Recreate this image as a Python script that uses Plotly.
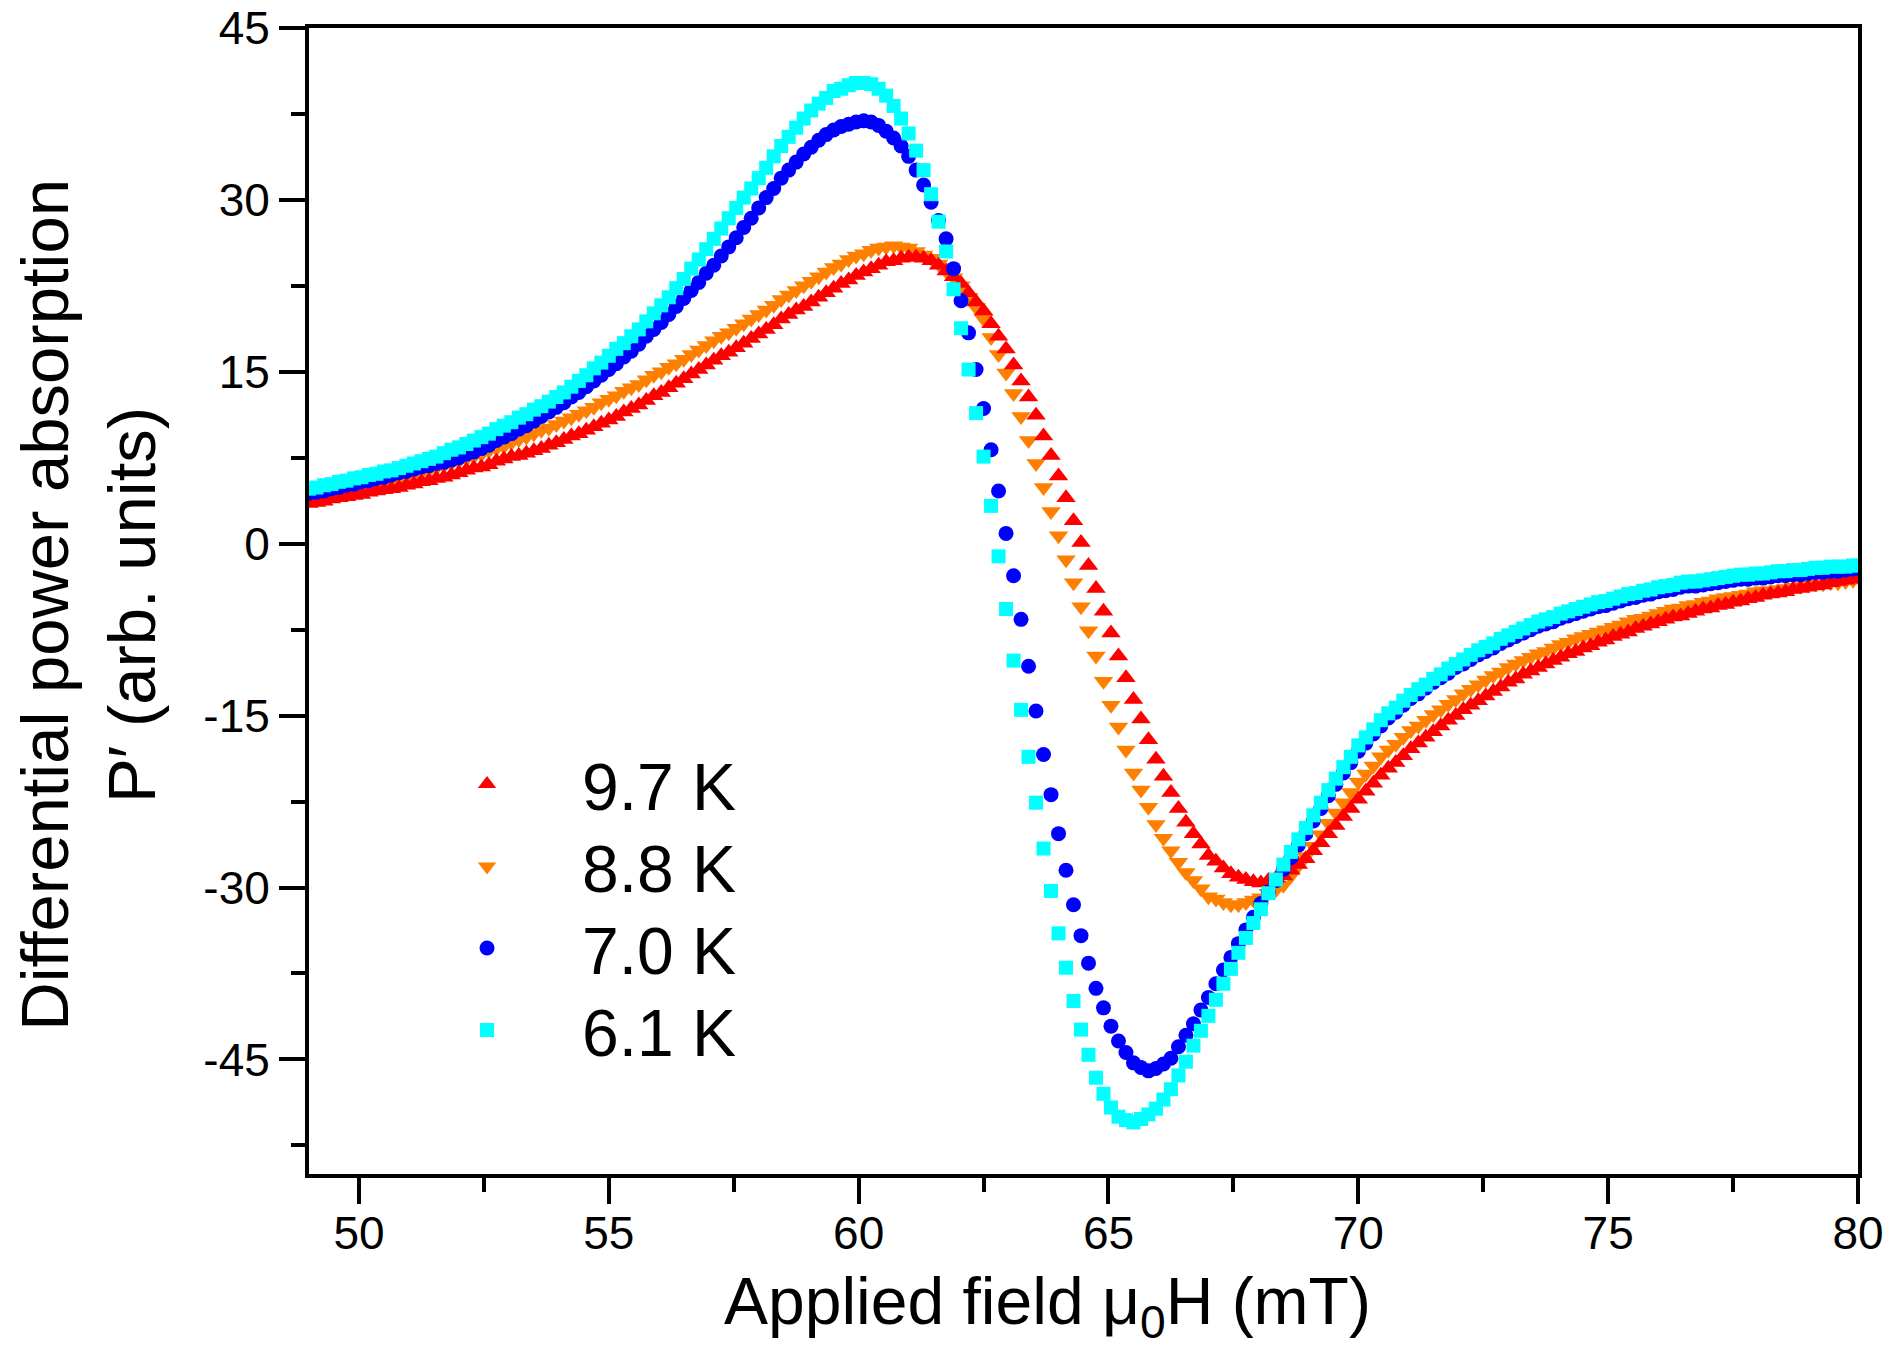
import plotly.graph_objects as go

# applied field (mT), one reading every 0.15 mT
field = [
    49.0, 49.15, 49.3, 49.45, 49.6, 49.75, 49.9, 50.05, 50.2, 50.35,
    50.5, 50.65, 50.8, 50.95, 51.1, 51.25, 51.4, 51.55, 51.7, 51.85,
    52.0, 52.15, 52.3, 52.45, 52.6, 52.75, 52.9, 53.05, 53.2, 53.35,
    53.5, 53.65, 53.8, 53.95, 54.1, 54.25, 54.4, 54.55, 54.7, 54.85,
    55.0, 55.15, 55.3, 55.45, 55.6, 55.75, 55.9, 56.05, 56.2, 56.35,
    56.5, 56.65, 56.8, 56.95, 57.1, 57.25, 57.4, 57.55, 57.7, 57.85,
    58.0, 58.15, 58.3, 58.45, 58.6, 58.75, 58.9, 59.05, 59.2, 59.35,
    59.5, 59.65, 59.8, 59.95, 60.1, 60.25, 60.4, 60.55, 60.7, 60.85,
    61.0, 61.15, 61.3, 61.45, 61.6, 61.75, 61.9, 62.05, 62.2, 62.35,
    62.5, 62.65, 62.8, 62.95, 63.1, 63.25, 63.4, 63.55, 63.7, 63.85,
    64.0, 64.15, 64.3, 64.45, 64.6, 64.75, 64.9, 65.05, 65.2, 65.35,
    65.5, 65.65, 65.8, 65.95, 66.1, 66.25, 66.4, 66.55, 66.7, 66.85,
    67.0, 67.15, 67.3, 67.45, 67.6, 67.75, 67.9, 68.05, 68.2, 68.35,
    68.5, 68.65, 68.8, 68.95, 69.1, 69.25, 69.4, 69.55, 69.7, 69.85,
    70.0, 70.15, 70.3, 70.45, 70.6, 70.75, 70.9, 71.05, 71.2, 71.35,
    71.5, 71.65, 71.8, 71.95, 72.1, 72.25, 72.4, 72.55, 72.7, 72.85,
    73.0, 73.15, 73.3, 73.45, 73.6, 73.75, 73.9, 74.05, 74.2, 74.35,
    74.5, 74.65, 74.8, 74.95, 75.1, 75.25, 75.4, 75.55, 75.7, 75.85,
    76.0, 76.15, 76.3, 76.45, 76.6, 76.75, 76.9, 77.05, 77.2, 77.35,
    77.5, 77.65, 77.8, 77.95, 78.1, 78.25, 78.4, 78.55, 78.7, 78.85,
    79.0, 79.15, 79.3, 79.45, 79.6, 79.75, 79.9, 80.05,
]

# differential power absorption P' (arb. units)
p_97K = [
    3.5, 3.6, 3.7, 3.9, 4.0, 4.1, 4.2, 4.3, 4.5, 4.6,
    4.7, 4.8, 4.9, 5.1, 5.2, 5.4, 5.5, 5.7, 5.8, 6.0,
    6.2, 6.4, 6.6, 6.7, 6.9, 7.2, 7.4, 7.6, 7.7, 7.9,
    8.1, 8.3, 8.6, 8.8, 9.1, 9.4, 9.6, 9.9, 10.2, 10.5,
    10.8, 11.1, 11.5, 11.8, 12.1, 12.5, 12.9, 13.2, 13.6, 14.0,
    14.4, 14.8, 15.2, 15.6, 16.0, 16.4, 16.7, 17.1, 17.5, 17.9,
    18.3, 18.7, 19.1, 19.6, 20.0, 20.4, 20.7, 21.1, 21.5, 21.9,
    22.3, 22.7, 23.0, 23.4, 23.7, 24.0, 24.3, 24.6, 24.7, 24.9,
    25.0, 25.0, 24.9, 24.7, 24.3, 23.8, 23.3, 22.7, 21.9, 21.1,
    20.3, 19.2, 18.1, 17.0, 15.6, 14.2, 12.8, 11.2, 9.4, 7.7,
    5.9, 4.0, 2.0, 0.1, -1.9, -3.9, -5.9, -7.8, -9.8, -11.7,
    -13.6, -15.3, -17.1, -18.8, -20.3, -21.7, -23.1, -24.3, -25.3, -26.2,
    -27.2, -27.7, -28.3, -28.8, -29.1, -29.3, -29.5, -29.6, -29.4, -29.2,
    -29.0, -28.5, -28.0, -27.5, -26.8, -26.1, -25.3, -24.6, -23.8, -23.1,
    -22.3, -21.6, -20.9, -20.2, -19.6, -19.1, -18.5, -17.9, -17.4, -16.9,
    -16.4, -15.9, -15.4, -15.0, -14.5, -14.1, -13.7, -13.3, -12.9, -12.5,
    -12.1, -11.8, -11.4, -11.1, -10.8, -10.5, -10.2, -9.9, -9.6, -9.4,
    -9.1, -8.9, -8.6, -8.4, -8.1, -7.9, -7.7, -7.4, -7.2, -7.0,
    -6.8, -6.6, -6.4, -6.3, -6.1, -5.9, -5.7, -5.6, -5.4, -5.3,
    -5.1, -5.0, -4.8, -4.7, -4.5, -4.4, -4.3, -4.2, -4.0, -3.9,
    -3.8, -3.7, -3.6, -3.4, -3.3, -3.2, -3.1, -3.0,
]

p_88K = [
    3.9, 4.0, 4.1, 4.3, 4.4, 4.6, 4.7, 4.9, 5.0, 5.2,
    5.3, 5.5, 5.7, 5.8, 6.0, 6.2, 6.4, 6.6, 6.8, 7.0,
    7.2, 7.4, 7.6, 7.8, 8.1, 8.3, 8.5, 8.8, 9.1, 9.3,
    9.6, 9.9, 10.1, 10.4, 10.7, 11.0, 11.3, 11.6, 11.9, 12.3,
    12.6, 12.9, 13.3, 13.6, 13.9, 14.3, 14.7, 15.0, 15.4, 15.7,
    16.1, 16.5, 16.9, 17.3, 17.7, 18.1, 18.4, 18.8, 19.2, 19.6,
    20.0, 20.4, 20.8, 21.3, 21.7, 22.1, 22.5, 22.9, 23.3, 23.7,
    24.1, 24.4, 24.8, 25.1, 25.3, 25.6, 25.8, 25.9, 26.0, 25.9,
    25.8, 25.5, 25.2, 24.9, 24.4, 23.8, 23.2, 22.5, 21.5, 20.6,
    19.6, 18.0, 16.5, 14.9, 13.1, 11.1, 9.0, 7.0, 4.9, 2.8,
    0.7, -1.4, -3.4, -5.5, -7.6, -9.8, -12.0, -14.1, -16.0, -18.0,
    -20.0, -21.5, -23.0, -24.5, -25.7, -26.8, -27.8, -28.7, -29.4, -30.1,
    -30.8, -31.0, -31.3, -31.5, -31.5, -31.3, -31.1, -30.9, -30.5, -30.2,
    -29.8, -29.0, -28.1, -27.3, -26.4, -25.4, -24.4, -23.5, -22.6, -21.7,
    -20.8, -20.1, -19.4, -18.6, -18.0, -17.5, -16.9, -16.3, -15.9, -15.4,
    -14.9, -14.5, -14.0, -13.6, -13.1, -12.7, -12.3, -11.9, -11.5, -11.2,
    -10.8, -10.5, -10.2, -9.9, -9.6, -9.4, -9.1, -8.8, -8.6, -8.3,
    -8.1, -7.9, -7.7, -7.5, -7.3, -7.1, -6.8, -6.6, -6.5, -6.3,
    -6.1, -5.9, -5.7, -5.6, -5.4, -5.3, -5.1, -5.0, -4.8, -4.7,
    -4.6, -4.5, -4.4, -4.2, -4.1, -4.1, -4.0, -3.9, -3.8, -3.7,
    -3.6, -3.5, -3.5, -3.4, -3.4, -3.3, -3.2, -3.2,
]

p_70K = [
    4.4, 4.5, 4.6, 4.8, 4.9, 5.1, 5.2, 5.4, 5.5, 5.7,
    5.8, 6.0, 6.2, 6.3, 6.5, 6.7, 6.8, 7.0, 7.1, 7.3,
    7.5, 7.8, 8.0, 8.3, 8.6, 9.0, 9.3, 9.6, 10.0, 10.3,
    10.7, 11.1, 11.5, 11.9, 12.3, 12.8, 13.2, 13.7, 14.2, 14.7,
    15.2, 15.7, 16.3, 16.8, 17.4, 18.1, 18.7, 19.3, 20.0, 20.7,
    21.4, 22.1, 22.8, 23.6, 24.3, 25.1, 25.9, 26.7, 27.6, 28.4,
    29.3, 30.2, 31.0, 31.9, 32.6, 33.3, 34.0, 34.6, 35.2, 35.7,
    36.1, 36.4, 36.6, 36.8, 36.9, 36.8, 36.5, 36.0, 35.4, 34.7,
    33.8, 32.6, 31.3, 29.8, 28.2, 26.6, 24.0, 21.2, 18.4, 15.2,
    11.8, 8.2, 4.6, 0.9, -2.8, -6.6, -10.7, -14.6, -18.4, -21.9,
    -25.3, -28.5, -31.5, -34.2, -36.6, -38.8, -40.5, -42.1, -43.4, -44.4,
    -45.3, -45.7, -46.0, -45.8, -45.4, -44.9, -43.9, -42.9, -41.9, -40.7,
    -39.6, -38.4, -37.2, -36.1, -34.9, -33.7, -32.6, -31.4, -30.4, -29.4,
    -28.4, -27.4, -26.3, -25.3, -24.2, -23.1, -22.0, -21.0, -20.0, -19.1,
    -18.1, -17.4, -16.6, -15.9, -15.2, -14.7, -14.1, -13.5, -13.1, -12.6,
    -12.1, -11.7, -11.3, -10.8, -10.5, -10.1, -9.7, -9.4, -9.1, -8.7,
    -8.4, -8.1, -7.8, -7.5, -7.2, -7.0, -6.8, -6.5, -6.3, -6.1,
    -5.9, -5.7, -5.5, -5.4, -5.2, -5.0, -4.8, -4.7, -4.5, -4.4,
    -4.2, -4.1, -4.0, -3.8, -3.7, -3.7, -3.6, -3.5, -3.4, -3.3,
    -3.2, -3.1, -3.1, -3.0, -3.0, -2.9, -2.8, -2.8, -2.7, -2.7,
    -2.6, -2.5, -2.5, -2.4, -2.4, -2.3, -2.2, -2.2,
]

p_61K = [
    4.8, 4.9, 5.1, 5.2, 5.4, 5.5, 5.7, 5.8, 6.0, 6.1,
    6.3, 6.4, 6.6, 6.8, 7.0, 7.2, 7.4, 7.6, 7.9, 8.2,
    8.4, 8.7, 9.0, 9.3, 9.6, 10.0, 10.3, 10.6, 11.0, 11.3,
    11.7, 12.0, 12.4, 12.8, 13.2, 13.7, 14.2, 14.7, 15.3, 15.8,
    16.4, 17.0, 17.5, 18.1, 18.7, 19.4, 20.1, 20.8, 21.5, 22.3,
    23.1, 24.0, 24.8, 25.7, 26.6, 27.5, 28.4, 29.3, 30.2, 31.0,
    31.9, 32.8, 33.8, 34.7, 35.5, 36.3, 37.1, 37.8, 38.4, 38.9,
    39.5, 39.7, 40.0, 40.2, 40.2, 40.1, 39.7, 39.1, 38.2, 37.1,
    35.8, 34.3, 32.6, 30.5, 28.1, 25.5, 22.2, 18.8, 15.2, 11.4,
    7.6, 3.3, -1.1, -5.7, -10.2, -14.5, -18.6, -22.6, -26.6, -30.3,
    -34.0, -37.0, -39.9, -42.4, -44.6, -46.6, -48.0, -49.2, -50.0, -50.3,
    -50.5, -50.2, -49.8, -49.3, -48.5, -47.6, -46.4, -45.2, -43.8, -42.5,
    -41.2, -39.8, -38.4, -37.1, -35.7, -34.4, -33.1, -31.9, -30.5, -29.3,
    -28.0, -26.9, -25.8, -24.8, -23.7, -22.6, -21.5, -20.5, -19.5, -18.6,
    -17.6, -16.9, -16.2, -15.4, -14.8, -14.3, -13.7, -13.2, -12.7, -12.3,
    -11.8, -11.4, -10.9, -10.5, -10.1, -9.7, -9.3, -9.0, -8.7, -8.3,
    -8.0, -7.7, -7.4, -7.1, -6.8, -6.6, -6.4, -6.1, -5.9, -5.7,
    -5.5, -5.3, -5.1, -5.0, -4.8, -4.6, -4.4, -4.3, -4.1, -4.0,
    -3.8, -3.7, -3.6, -3.4, -3.3, -3.3, -3.2, -3.1, -3.0, -2.9,
    -2.8, -2.7, -2.7, -2.6, -2.6, -2.5, -2.4, -2.4, -2.3, -2.3,
    -2.2, -2.1, -2.1, -2.0, -2.0, -2.0, -1.9, -1.9,
]

x_ticks = [50, 55, 60, 65, 70, 75, 80]
y_ticks = [-45, -30, -15, 0, 15, 30, 45]
y_ticktext = ['-45', '-30', '-15', '0', '15', '30', '45']

FONT = 'Arial, Liberation Sans, sans-serif'

# drawn bottom to top: orange under red, cyan on top of blue
# (name, values, symbol, colour, size, legend box, legend top)
styles = [
    ('8.8 K', p_88K, 'triangle-down', '#FF8000', 17, 'legend2', 0.3114),
    ('9.7 K', p_97K, 'triangle-up', '#FF0000', 17, 'legend', 0.3834),
    ('7.0 K', p_70K, 'circle', '#0000FF', 15, 'legend3', 0.2403),
    ('6.1 K', p_61K, 'square', '#00FFFF', 14, 'legend4', 0.1688),
]

fig = go.Figure()
legend_boxes = {}
for name, vals, sym, col, size, leg, ytop in styles:
    fig.add_trace(go.Scatter(
        x=field, y=vals, mode='markers', name=name, legend=leg,
        showlegend=True,
        marker=dict(symbol=sym, color=col, size=size, line=dict(width=0)),
    ))
    legend_boxes[leg] = dict(
        visible=True, x=0.0536, y=ytop, xanchor='left', yanchor='top',
        bgcolor='rgba(0,0,0,0)', itemwidth=180,
        font=dict(family=FONT, size=66, color='black'),
    )

axis_common = dict(
    showgrid=False, zeroline=False, automargin=False,
    showline=True, linewidth=4, linecolor='black', mirror=True,
    ticks='outside', ticklen=26, tickwidth=4, tickcolor='black',
    tickfont=dict(family=FONT, size=46, color='black'),
)

fig.update_xaxes(range=[49, 80], tickvals=x_ticks, ticklabelstandoff=-10,
                 minor=dict(dtick=2.5, tick0=0, ticks='outside', ticklen=14,
                            tickwidth=4, tickcolor='black'),
                 **axis_common)
fig.update_yaxes(range=[-55, 45], tickvals=y_ticks, ticktext=y_ticktext,
                 ticklabelstandoff=0,
                 minor=dict(dtick=7.5, tick0=0, ticks='outside', ticklen=14,
                            tickwidth=4, tickcolor='black'),
                 **axis_common)

fig.add_annotation(text='Differential power absorption<br>P\u2032 (arb. units)',
                   xref='paper', yref='paper', x=-0.1425, y=0.497,
                   xanchor='center', yanchor='middle', textangle=-90,
                   showarrow=False, font=dict(family=FONT, size=67, color='black'))
fig.add_annotation(text='Applied field \u03bc<sub>0</sub>H (mT)',
                   xref='paper', yref='paper', x=0.477, y=-0.1156,
                   xanchor='center', yanchor='middle',
                   showarrow=False, font=dict(family=FONT, size=66, color='black'))

fig.update_layout(
    width=1902, height=1372,
    margin=dict(l=309, r=44, t=28, b=198, autoexpand=False),
    paper_bgcolor='white', plot_bgcolor='white',
    font=dict(family=FONT, color='black'),
    showlegend=True,
    **legend_boxes,
)

# drop the default 8px page margin so the figure fills the window exactly
fig.write_html('out.html', config={'displayModeBar': False},
               post_script="document.body.style.margin = '0px';")
